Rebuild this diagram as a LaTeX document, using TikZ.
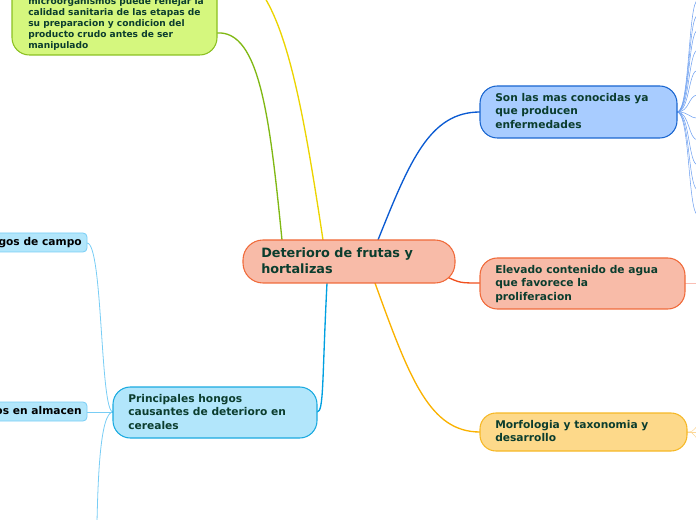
\documentclass[tikz,border=0pt]{standalone}
\usepackage{fontspec}
\setmainfont{DejaVu Sans}
\begin{document}
\begin{tikzpicture}[x=0.75pt,y=-0.75pt,
  txt/.style={font=\bfseries\fontsize{8}{10}\selectfont,text=tc,align=left,anchor=north west,inner sep=0pt},
  topic/.style={rounded corners=13pt,line width=0.8pt}]
\definecolor{tc}{HTML}{0B3D2E}
\useasboundingbox (0,0) rectangle (696,520);
\clip (0,0) rectangle (696,520);
% connectors
\draw[color={rgb,255:red,128;green,184;blue,20},line width=1pt] (282,240) .. controls (270,120) and (260,30) .. (217,33);
\draw[color={rgb,255:red,236;green,212;blue,0},line width=1pt] (323,240) .. controls (305,120) and (290,40) .. (265,-2);
\draw[color={rgb,255:red,10;green,90;blue,210},line width=1pt] (378,240) .. controls (410,160) and (430,112) .. (480,112);
\draw[color={rgb,255:red,240;green,80;blue,30},line width=1pt] (445,276) .. controls (460,283) .. (480,283);
\draw[color={rgb,255:red,250;green,178;blue,0},line width=1pt] (375,283) .. controls (410,380) and (430,432) .. (480,432);
\draw[color={rgb,255:red,0;green,160;blue,225},line width=1pt] (327,283) .. controls (322,380) and (324,412) .. (317,412);
\foreach \y in {0,15,30,50,70,95,118,140,165,190,215}
  \draw[color={rgb,255:red,110;green,160;blue,240},line width=0.4pt] (677,112) .. controls (690,112) and (688,\y) .. (698,\y);
\draw[color={rgb,255:red,250;green,190;blue,180},line width=0.6pt] (685,283) -- (698,283);
\foreach \y in {425,432,440}
  \draw[color={rgb,255:red,252;green,215;blue,150},line width=0.4pt] (687,432) .. controls (692,432) .. (698,\y);
\draw[color={rgb,255:red,120;green,205;blue,245},line width=0.6pt] (113,412) .. controls (100,412) and (103,243) .. (87,243);
\draw[color={rgb,255:red,120;green,205;blue,245},line width=0.6pt] (113,412) -- (87,412);
\draw[color={rgb,255:red,120;green,205;blue,245},line width=0.6pt] (113,412) .. controls (100,412) and (98,480) .. (97,522);
% nodes
\draw[topic,fill={rgb,255:red,213;green,247;blue,126},draw={rgb,255:red,139;green,192;blue,32}] (12,-40) rectangle (217,55);
\node[txt,font=\bfseries\fontsize{6.8}{8.25}\selectfont] (g) at (28,-14) {Recuento de\\microorganismos puede reflejar la\\calidad sanitaria de las etapas de\\su preparacion y condicion del\\producto crudo antes de ser\\manipulado};
\draw[topic,rounded corners=15pt,fill={rgb,255:red,248;green,187;blue,168},draw={rgb,255:red,240;green,106;blue,58}] (243,240) rectangle (455,283);
\node[txt,font=\bfseries\fontsize{9.6}{12}\selectfont] (c) at (261,248) {Deterioro de frutas y\\hortalizas};
\draw[topic,fill={rgb,255:red,168;green,204;blue,255},draw={rgb,255:red,26;green,102;blue,208}] (480,86) rectangle (677,138);
\node[txt] (b) at (495,93) {Son las mas conocidas ya\\que producen\\enfermedades};
\draw[topic,fill={rgb,255:red,248;green,187;blue,168},draw={rgb,255:red,240;green,106;blue,58}] (480,258) rectangle (685,309);
\node[txt] (s) at (495,265) {Elevado contenido de agua\\que favorece la\\proliferacion};
\draw[topic,rounded corners=12pt,fill={rgb,255:red,253;green,217;blue,138},draw={rgb,255:red,246;green,184;blue,38}] (480,413) rectangle (687,451);
\node[txt] (y) at (495,420) {Morfologia y taxonomia y\\desarrollo};
\draw[topic,fill={rgb,255:red,178;green,230;blue,251},draw={rgb,255:red,26;green,170;blue,224}] (113,387) rectangle (317,438);
\node[txt] (p) at (128,394) {Principales hongos\\causantes de deterioro en\\cereales};
\draw[rounded corners=3pt,line width=0.6pt,fill={rgb,255:red,178;green,230;blue,251},draw={rgb,255:red,120;green,205;blue,245}] (-40,233) rectangle (87,252);
\node[txt,anchor=east,text=black] (h1) at (82,243) {Hongos de campo};
\draw[rounded corners=3pt,line width=0.6pt,fill={rgb,255:red,178;green,230;blue,251},draw={rgb,255:red,120;green,205;blue,245}] (-40,402) rectangle (87,421);
\node[txt,anchor=east,text=black] (h2) at (82,412) {Hongos en almacen};
\end{tikzpicture}
\end{document}
